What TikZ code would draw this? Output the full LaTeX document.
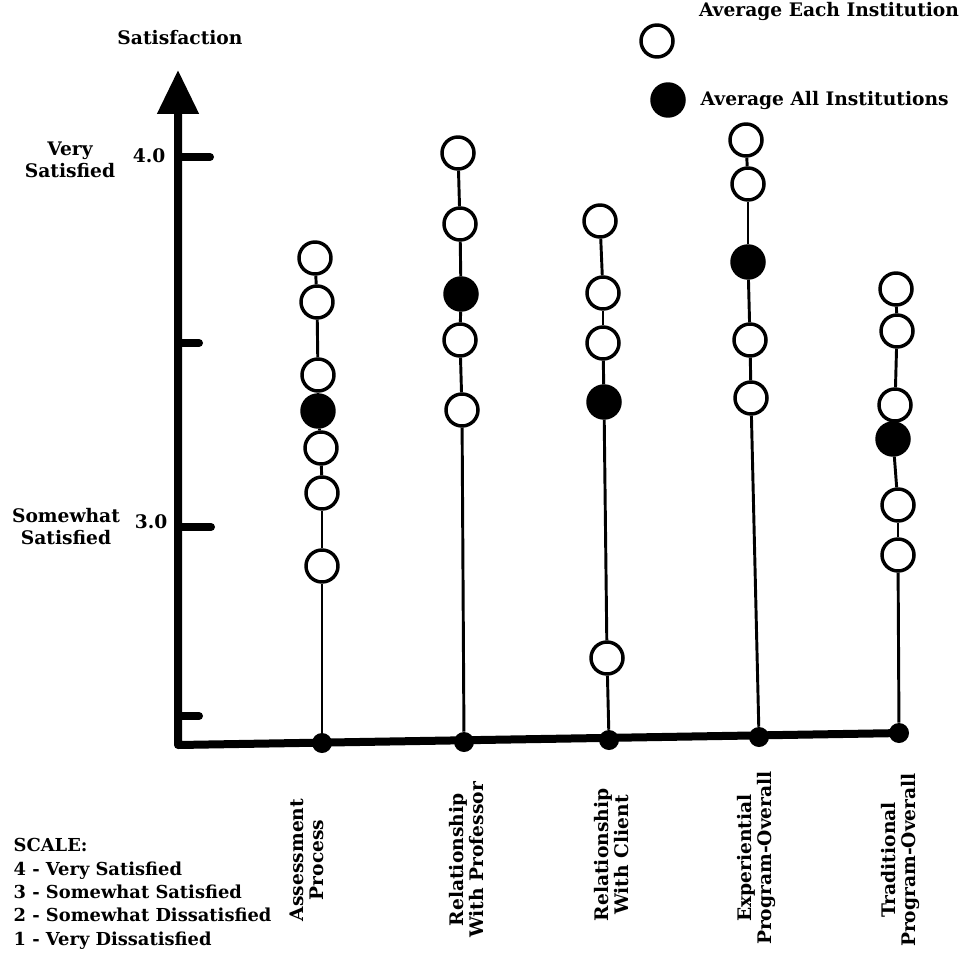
\documentclass[tikz,border=0pt]{standalone}
\usepackage{fontspec}
\setmainfont{DejaVu Serif}
\usetikzlibrary{arrows.meta, positioning}

\begin{document}
\begin{tikzpicture}[
    x=0.75pt, y=-0.75pt,
    every node/.style={font=\fontsize{14}{16.5}\selectfont\bfseries},
    inst/.style={circle, draw, line width=2.6pt, fill=white, minimum size=24pt, inner sep=0pt},
    allinst/.style={circle, draw, line width=2.6pt, fill=black, minimum size=24pt, inner sep=0pt},
    base/.style={circle, fill=black, minimum size=15pt, inner sep=0pt},
    stem/.style={line width=2.2pt},
    axis/.style={line width=6pt, line cap=round, line join=round},
    tick/.style={line width=6pt, line cap=round},
    cat/.style={rotate=90, align=center, font=\fontsize{14}{15}\selectfont\bfseries}
]
\useasboundingbox (0,0) rectangle (964,973);

% axes
\coordinate (ytip) at (178,70);
\coordinate (origin) at (178,745);
\coordinate (xend) at (903,733);
\draw[axis, {Triangle[length=33pt,width=30pt]}-] (ytip) -- (origin) -- (xend);
\draw[tick] (180,157) -- (210,157);
\draw[tick] (180,343) -- (199,343);
\draw[tick] (180,527) -- (211,527);
\draw[tick] (180,716) -- (199,716);

\node (title) at (180,38) {Satisfaction};
\node[align=center] (very) at (70,160) {Very\\Satisfied};
\node (four) at (149,156) {4.0};
\node[align=center] (some) at (66,527) {Somewhat\\Satisfied};
\node (three) at (151,522) {3.0};

% legend
\node[inst] (legopen) at (657,41) {};
\node (legeach) at (829,11) {Average Each Institution};
\node[allinst] (legall) at (668,100) {};
\node[anchor=west] (legalltxt) at (696,100) {Average All Institutions};

% assessment process
\node[base] (a0) at (322,743) {};
\node[inst] (a1) at (322,566) {};
\node[inst] (a2) at (322,493) {};
\node[inst] (a3) at (321,448) {};
\node[allinst] (a4) at (318,411) {};
\node[inst] (a5) at (318,375) {};
\node[inst] (a6) at (317,302) {};
\node[inst] (a7) at (315,258) {};
\draw[stem] (a0) -- (a1);
\draw[stem] (a1) -- (a2);
\draw[stem] (a2) -- (a3);
\draw[stem] (a3) -- (a4);
\draw[stem] (a4) -- (a5);
\draw[stem] (a5) -- (a6);
\draw[stem] (a6) -- (a7);

% relationship with professor
\node[base] (p0) at (464,742) {};
\node[inst] (p1) at (462,410) {};
\node[inst] (p2) at (460,340) {};
\node[allinst] (p3) at (461,294) {};
\node[inst] (p4) at (460,224) {};
\node[inst] (p5) at (458,153) {};
\draw[stem] (p0) -- (p1);
\draw[stem] (p1) -- (p2);
\draw[stem] (p2) -- (p3);
\draw[stem] (p3) -- (p4);
\draw[stem] (p4) -- (p5);

% relationship with client
\node[base] (c0) at (609,740) {};
\node[inst] (c1) at (607,658) {};
\node[allinst] (c2) at (604,402) {};
\node[inst] (c3) at (603,343) {};
\node[inst] (c4) at (603,293) {};
\node[inst] (c5) at (600,221) {};
\draw[stem] (c0) -- (c1);
\draw[stem] (c1) -- (c2);
\draw[stem] (c2) -- (c3);
\draw[stem] (c3) -- (c4);
\draw[stem] (c4) -- (c5);

% experiential program
\node[base] (e0) at (759,737) {};
\node[inst] (e1) at (751,398) {};
\node[inst] (e2) at (750,340) {};
\node[allinst] (e3) at (748,262) {};
\node[inst] (e4) at (748,184) {};
\node[inst] (e5) at (746,140) {};
\draw[stem] (e0) -- (e1);
\draw[stem] (e1) -- (e2);
\draw[stem] (e2) -- (e3);
\draw[stem] (e3) -- (e4);
\draw[stem] (e4) -- (e5);

% traditional program
\node[base] (t0) at (899,733) {};
\node[inst] (t1) at (898,555) {};
\node[inst] (t2) at (898,505) {};
\node[allinst] (t3) at (893,439) {};
\node[inst] (t4) at (895,405) {};
\node[inst] (t5) at (897,331) {};
\node[inst] (t6) at (896,289) {};
\draw[stem] (t0) -- (t1);
\draw[stem] (t1) -- (t2);
\draw[stem] (t2) -- (t3);
\draw[stem] (t3) -- (t4);
\draw[stem] (t4) -- (t5);
\draw[stem] (t5) -- (t6);

% category labels
\node[cat] (lab1) at (307,860) {Assessment\\Process};
\node[cat] (lab2) at (467,860) {Relationship\\With Professor};
\node[cat] (lab3) at (612,855) {Relationship\\With Client};
\node[cat] (lab4) at (756,858) {Experiential\\Program-Overall};
\node[cat] (lab5) at (900,860) {Traditional\\Program-Overall};

% scale key
\node[anchor=north west, align=left, font=\fontsize{13.4}{17.5}\selectfont\bfseries] (key) at (9,834)
  {SCALE:\\4 - Very Satisfied\\3 - Somewhat Satisfied\\2 - Somewhat Dissatisfied\\1 - Very Dissatisfied};

\end{tikzpicture}
\end{document}
